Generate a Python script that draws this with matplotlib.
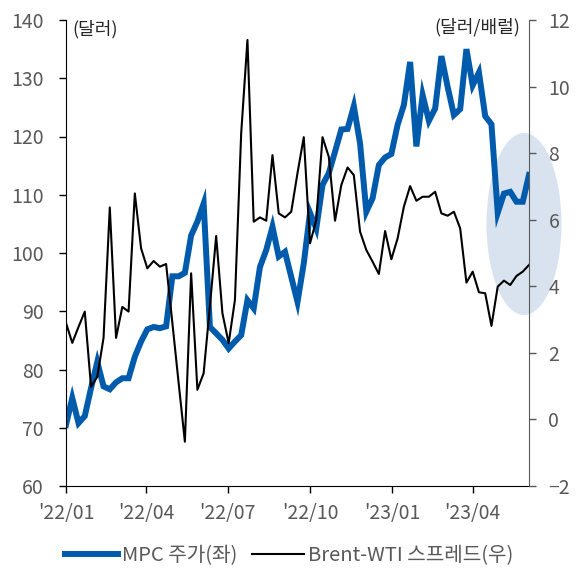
import numpy as np
import pandas as pd
import matplotlib
matplotlib.use('Agg')
import matplotlib.pyplot as plt
import matplotlib.dates as mdates
from matplotlib.patches import Ellipse

plt.rcParams['font.family'] = ['Noto Sans CJK KR', 'DejaVu Sans']

# 주간 데이터 ('22/01 ~ '23/06)
dates = pd.date_range('2022-01-01', periods=75, freq='7D')

mpc = [70.5, 75.1, 70.8, 72.0, 76.8, 81.3, 77.1, 76.6, 77.8, 78.5,
       78.5, 82.2, 84.8, 86.9, 87.3, 87.1, 87.4, 96.0, 96.0, 96.6,
       103.0, 105.4, 108.5, 87.3, 86.2, 85.1, 83.6, 84.8, 85.9, 91.9,
       90.5, 97.6, 100.5, 104.5, 99.4, 100.2, 95.9, 91.6, 98.2, 106.9,
       104.2, 111.7, 113.7, 117.4, 121.2, 121.3, 125.2, 118.8, 107.1, 109.4,
       115.1, 116.4, 117.0, 122.0, 125.4, 132.8, 118.3, 127.1, 122.7, 124.8,
       133.8, 128.5, 123.7, 124.7, 135.0, 128.8, 131.0, 123.5, 122.1, 106.9,
       110.2, 110.5, 108.8, 108.8, 113.4]

spread = [2.9, 2.3, 2.78, 3.24, 0.98, 1.28, 2.45, 6.37, 2.45, 3.38,
          3.24, 6.79, 5.14, 4.54, 4.76, 4.59, 4.67, 2.9, 1.1, -0.67,
          4.39, 0.89, 1.39, 3.4, 5.51, 3.19, 2.29, 3.59, 8.6, 11.4,
          5.94, 6.07, 5.97, 7.94, 6.19, 6.07, 6.24, 7.4, 8.48, 5.29,
          5.99, 8.48, 7.89, 5.97, 7.04, 7.57, 7.34, 5.64, 5.09, 4.74,
          4.37, 5.66, 4.81, 5.44, 6.39, 7.01, 6.57, 6.69, 6.69, 6.84,
          6.19, 6.12, 6.24, 5.74, 4.11, 4.44, 3.82, 3.79, 2.81, 3.99,
          4.17, 4.04, 4.31, 4.44, 4.64]

tick_dates = pd.to_datetime(['2022-01-01', '2022-04-01', '2022-07-01',
                             '2022-10-01', '2023-01-01', '2023-04-01'])

gray = '#595959'
blue = '#005bac'

fig = plt.figure(figsize=(5.79, 5.68), dpi=100)
ax = fig.add_axes([66/579, 1-486/568, 463/579, 466/568])
ax2 = ax.twinx()

# 강조 타원
ell = Ellipse((524/579, 1-224/568), 75/579, 182/568, transform=fig.transFigure,
              facecolor='#d9e3ef', edgecolor='none', zorder=0, clip_on=False)
ax.add_patch(ell)

l1, = ax.plot(dates, mpc, color=blue, linewidth=4.3, solid_joinstyle='miter', zorder=2,
              label='MPC 주가(좌)')
l2, = ax2.plot(dates, spread, color='black', linewidth=1.5, label='Brent-WTI 스프레드(우)')

ax.set_xlim(dates[0], dates[-1])
ax.set_ylim(60, 140)
ax.set_yticks(np.arange(60, 141, 10))
ax2.set_ylim(-2, 12)
ax2.set_yticks(np.arange(-2, 13, 2))
ax.set_xticks(tick_dates)
ax.xaxis.set_major_formatter(mdates.DateFormatter("'%y/%m"))

for a in (ax, ax2):
    a.spines['top'].set_visible(False)
    a.tick_params(labelsize=14, labelcolor=gray, length=5, width=1)
ax.spines['right'].set_visible(False)
ax2.spines['left'].set_visible(False)
ax2.spines['bottom'].set_visible(False)
ax2.spines['right'].set_color(gray)
ax2.tick_params(axis='y', colors=gray, labelcolor=gray, pad=9)
ax.tick_params(axis='y', pad=11)
ax.tick_params(axis='x', pad=7)

ax.text(0.013, 0.98, '(달러)', transform=ax.transAxes, fontsize=13,
        color='#262626', ha='left', va='center')
ax.text(0.981, 0.984, '(달러/배럴)', transform=ax.transAxes, fontsize=13,
        color='#262626', ha='right', va='center')

fig.legend(handles=[l1, l2], loc='center', bbox_to_anchor=(0.5, 1-556/568), ncol=2,
           frameon=False, fontsize=14.5, handlelength=2.6, columnspacing=0.75,
           handletextpad=0.2, labelcolor=gray)

fig.savefig('out.png', dpi=100)
